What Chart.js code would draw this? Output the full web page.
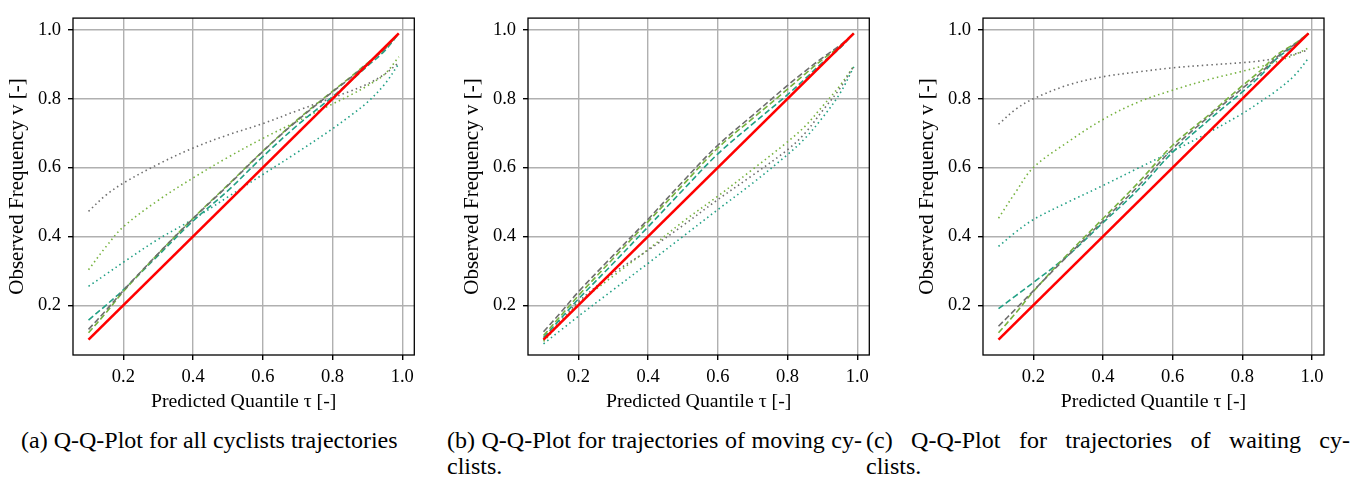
<!DOCTYPE html>
<html>
<head>
<meta charset="utf-8">
<script src="https://cdn.jsdelivr.net/npm/chart.js@4.4.1/dist/chart.umd.min.js"></script>
<style>
  body { margin: 0; background: #fff; width: 1367px; height: 482px; overflow: hidden; position: relative; }
  .panel { position: absolute; top: 0; height: 420px; }
  .cap { position: absolute; font-family: "Liberation Serif", "Times New Roman", serif; font-size: 24px; line-height: 26px; color: #000; white-space: nowrap; }
  .just { text-align: justify; text-align-last: justify; white-space: normal; }
</style>
</head>
<body>
<div class="panel" style="left:0;width:455px"><canvas id="qqA" width="455" height="420"></canvas></div>
<div class="panel" style="left:455px;width:455px"><canvas id="qqB" width="455" height="420"></canvas></div>
<div class="panel" style="left:910px;width:457px"><canvas id="qqC" width="457" height="420"></canvas></div>

<div class="cap" style="left:21px;top:427px">(a) Q-Q-Plot for all cyclists trajectories</div>
<div class="cap just" style="left:447px;top:427px;width:415px">(b) Q-Q-Plot for trajectories of moving cy-</div>
<div class="cap" style="left:447px;top:453px">clists.</div>
<div class="cap just" style="left:866px;top:427px;width:484px">(c) Q-Q-Plot for trajectories of waiting cy-</div>
<div class="cap" style="left:866px;top:453px">clists.</div>

<script>
// predicted quantiles (x) and ticks
const tau = [0.1, 0.15, 0.2, 0.3, 0.4, 0.5, 0.6, 0.7, 0.8, 0.85, 0.9, 0.95, 0.99];
const tickVals = [0.2, 0.4, 0.6, 0.8, 1.0];
const idealX = [0.1, 0.99];
const idealY = [0.1, 0.99];

// (a) all cyclists
const aDashGray  = [0.13, 0.185, 0.243, 0.35, 0.452, 0.548, 0.647, 0.738, 0.82, 0.86, 0.902, 0.945, 0.99];
const aDashGreen = [0.12, 0.178, 0.24, 0.35, 0.453, 0.55, 0.648, 0.74, 0.822, 0.862, 0.904, 0.946, 0.99];
const aDashTeal  = [0.157, 0.2, 0.245, 0.345, 0.445, 0.533, 0.632, 0.724, 0.806, 0.85, 0.895, 0.94, 0.99];
const aDotGray   = [0.473, 0.52, 0.555, 0.61, 0.657, 0.695, 0.728, 0.766, 0.803, 0.822, 0.843, 0.872, 0.905];
const aDotGreen  = [0.303, 0.37, 0.428, 0.505, 0.57, 0.63, 0.685, 0.735, 0.785, 0.81, 0.838, 0.872, 0.922];
const aDotTeal   = [0.255, 0.29, 0.325, 0.392, 0.45, 0.515, 0.58, 0.645, 0.713, 0.75, 0.79, 0.843, 0.902];

// (b) moving cyclists
const bDashGray  = [0.123, 0.18, 0.239, 0.345, 0.45, 0.56, 0.665, 0.752, 0.839, 0.88, 0.919, 0.955, 0.99];
const bDashGreen = [0.112, 0.17, 0.228, 0.336, 0.443, 0.55, 0.657, 0.743, 0.828, 0.872, 0.914, 0.952, 0.99];
const bDashTeal  = [0.106, 0.162, 0.218, 0.322, 0.428, 0.535, 0.64, 0.727, 0.812, 0.858, 0.905, 0.947, 0.99];
const bDotGray   = [0.10, 0.155, 0.21, 0.293, 0.36, 0.432, 0.507, 0.578, 0.652, 0.7, 0.765, 0.83, 0.895];
const bDotGreen  = [0.095, 0.15, 0.205, 0.285, 0.362, 0.443, 0.517, 0.595, 0.675, 0.72, 0.778, 0.838, 0.895];
const bDotTeal   = [0.088, 0.128, 0.168, 0.245, 0.322, 0.4, 0.478, 0.555, 0.638, 0.685, 0.745, 0.815, 0.893];

// (c) waiting cyclists
const cDashGray  = [0.139, 0.19, 0.242, 0.345, 0.445, 0.545, 0.655, 0.745, 0.83, 0.872, 0.922, 0.958, 0.99];
const cDashGreen = [0.12, 0.178, 0.24, 0.35, 0.452, 0.555, 0.665, 0.75, 0.838, 0.88, 0.928, 0.96, 0.99];
const cDashTeal  = [0.19, 0.228, 0.266, 0.345, 0.44, 0.535, 0.645, 0.735, 0.82, 0.865, 0.918, 0.955, 0.99];
const cDotGray   = [0.726, 0.77, 0.80, 0.84, 0.864, 0.878, 0.89, 0.898, 0.905, 0.91, 0.918, 0.93, 0.942];
const cDotGreen  = [0.453, 0.53, 0.60, 0.675, 0.74, 0.79, 0.825, 0.855, 0.88, 0.893, 0.908, 0.928, 0.948];
const cDotTeal   = [0.371, 0.413, 0.449, 0.50, 0.548, 0.598, 0.648, 0.7, 0.757, 0.79, 0.825, 0.868, 0.918];

const GRAY = '#6e6e6e', GREEN = '#76b23e', TEAL = '#21a085', RED = '#ff0000';

Chart.defaults.font.family = '"Liberation Serif", "Times New Roman", serif';
Chart.defaults.color = '#000';

const pts = (xs, ys) => xs.map((x, i) => ({x: x, y: ys[i]}));

const mkSet = (ys, color, style) => ({
    data: pts(tau, ys),
    borderColor: color,
    backgroundColor: color,
    borderWidth: 1.6,
    borderDash: style === 'dash' ? [6, 3] : [1.5, 3.2],
    pointRadius: 0,
    tension: 0.35,
    fill: false
});

// box round the plot area
const frame = {
    id: 'frame',
    afterDraw(chart) {
        const a = chart.chartArea, ctx = chart.ctx;
        ctx.save();
        ctx.strokeStyle = '#000';
        ctx.lineWidth = 1.3;
        ctx.strokeRect(a.left, a.top, a.right - a.left, a.bottom - a.top);
        ctx.restore();
    }
};

const setTicks = (scale) => { scale.ticks = tickVals.map(v => ({value: v})); };

const makeChart = (id, series, rightPad) => {
    return new Chart(id, {
        type: 'line',
        data: {
            datasets: [
                { data: pts(idealX, idealY), borderColor: RED, backgroundColor: RED,
                  borderWidth: 2.6, pointRadius: 0, fill: false },
                mkSet(series[0], GRAY, 'dash'),
                mkSet(series[1], GREEN, 'dash'),
                mkSet(series[2], TEAL, 'dash'),
                mkSet(series[3], GRAY, 'dot'),
                mkSet(series[4], GREEN, 'dot'),
                mkSet(series[5], TEAL, 'dot')
            ]
        },
        options: {
            responsive: false,
            animation: false,
            layout: { padding: { top: 5, right: rightPad, left: 0, bottom: 0 } },
            plugins: { legend: { display: false }, tooltip: { enabled: false } },
            scales: {
                x: {
                    type: 'linear', min: 0.0555, max: 1.0345,
                    afterBuildTicks: setTicks,
                    afterFit: (s) => { s.height = 65; },
                    grid: { color: '#b0b0b0', lineWidth: 1.4, tickColor: '#000', tickLength: 5 },
                    border: { display: false },
                    ticks: { font: { size: 18.5 }, padding: 6, maxRotation: 0,
                             callback: (v) => v.toFixed(1) },
                    title: { display: true, text: 'Predicted Quantile τ [-]', font: { size: 19.8 },
                             padding: { top: 2, bottom: 6 } }
                },
                y: {
                    type: 'linear', min: 0.0555, max: 1.0345,
                    afterBuildTicks: setTicks,
                    afterFit: (s) => { s.width = 73; },
                    grid: { color: '#b0b0b0', lineWidth: 1.4, tickColor: '#000', tickLength: 5 },
                    border: { display: false },
                    ticks: { font: { size: 18.5 }, padding: 7,
                             callback: (v) => v.toFixed(1) },
                    title: { display: true, text: 'Observed Frequency v [-]', font: { size: 21 },
                             padding: { top: 5, bottom: 0 } }
                }
            }
        },
        plugins: [frame]
    });
};

makeChart('qqA', [aDashGray, aDashGreen, aDashTeal, aDotGray, aDotGreen, aDotTeal], 40.7);
makeChart('qqB', [bDashGray, bDashGreen, bDashTeal, bDotGray, bDotGreen, bDotTeal], 40.7);
makeChart('qqC', [cDashGray, cDashGreen, cDashTeal, cDotGray, cDotGreen, cDotTeal], 43);
</script>
</body>
</html>
